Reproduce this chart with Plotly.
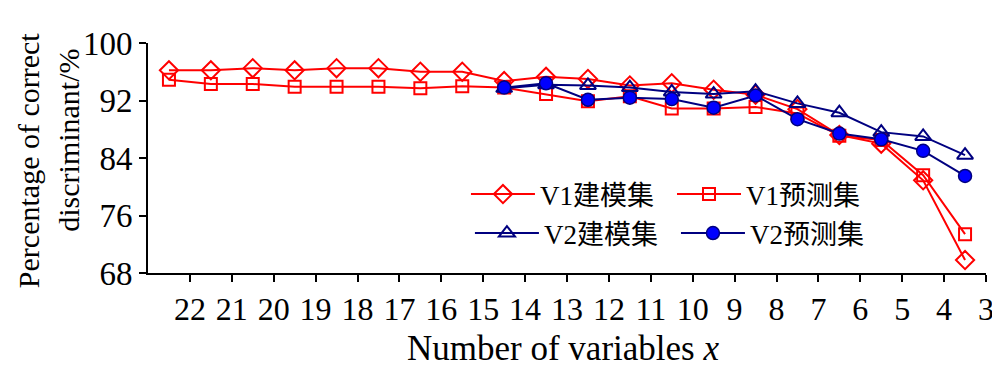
import plotly.graph_objects as go

# Positions of the points along the "Number of variables" axis
x_v1 = [22.5, 21.5, 20.5, 19.5, 18.5, 17.5, 16.5, 15.5, 14.5, 13.5,
        12.5, 11.5, 10.5, 9.5, 8.5, 7.5, 6.5, 5.5, 4.5, 3.5]
x_v2 = [14.5, 13.5, 12.5, 11.5, 10.5, 9.5, 8.5, 7.5, 6.5, 5.5, 4.5, 3.5]

v1_train = [96.2, 96.2, 96.5, 96.2, 96.5, 96.5, 96.0, 96.0, 94.7, 95.3,
            95.0, 94.1, 94.4, 93.5, 92.8, 90.8, 87.2, 86.0, 80.9, 69.8]
v1_pred = [94.9, 94.3, 94.3, 93.9, 93.9, 93.9, 93.7, 94.0, 93.8, 92.9,
           91.9, 92.6, 90.9, 90.9, 91.1, 90.2, 87.1, 86.5, 81.6, 73.4]
v2_train = [93.7, 94.2, 94.1, 93.8, 93.2, 92.9, 93.3, 91.6, 90.3, 87.6, 87.0, 84.4]
v2_pred = [93.8, 94.4, 92.1, 92.4, 92.2, 91.0, 92.7, 89.4, 87.4, 86.6, 85.0, 81.5]

x_ticks = list(range(22, 2, -1))
y_ticks = [68, 76, 84, 92, 100]

names = ["V1建模集", "V1预测集", "V2建模集", "V2预测集"]

RED = "#FF0000"
NAVY = "#000080"
FONT = "Liberation Serif, Times New Roman, Noto Sans CJK SC, serif"

# page body has an 8px margin; the figure is sized to fill the rest of the window
OFF = 8
W, H = 1000 - OFF, 374 - OFF
# plot area in window pixels
PX0, PX1, PY0, PY1 = 148, 994, 43, 273
L, R, T, B = PX0 - OFF, W - (PX1 - OFF), PY0 - OFF, H - (PY1 - OFF)
pw, ph = PX1 - PX0, PY1 - PY0


def px(xp):
    return (xp - PX0) / pw


def py(yp):
    return (PY1 - yp) / ph


fig = go.Figure()
fig.add_trace(go.Scatter(x=x_v1, y=v1_train, name=names[0], mode="lines+markers",
                         legend="legend",
                         line=dict(color=RED, width=2),
                         marker=dict(symbol="diamond-open", size=14, color=RED,
                                     line=dict(width=2, color=RED))))
fig.add_trace(go.Scatter(x=x_v1, y=v1_pred, name=names[1], mode="lines+markers",
                         legend="legend2",
                         line=dict(color=RED, width=2),
                         marker=dict(symbol="square-open", size=12, color=RED,
                                     line=dict(width=2, color=RED))))
fig.add_trace(go.Scatter(x=x_v2, y=v2_train, name=names[2], mode="lines+markers",
                         legend="legend3",
                         line=dict(color=NAVY, width=2),
                         marker=dict(symbol="triangle-up-open", size=14, color=NAVY,
                                     line=dict(width=2, color=NAVY))))
fig.add_trace(go.Scatter(x=x_v2, y=v2_pred, name=names[3], mode="lines+markers",
                         legend="legend4",
                         line=dict(color=NAVY, width=2),
                         marker=dict(symbol="circle", size=13, color="#0000FF",
                                     line=dict(width=1.5, color=NAVY))))

leg_common = dict(orientation="v", xanchor="left", yanchor="top", itemwidth=64,
                  font=dict(family=FONT, size=27, color="black"),
                  bgcolor="rgba(0,0,0,0)", tracegroupgap=0)

fig.update_layout(
    width=W, height=H,
    margin=dict(l=L, r=R, t=T, b=B),
    paper_bgcolor="white", plot_bgcolor="white",
    font=dict(family=FONT, color="black", size=30),
    showlegend=True,
    legend=dict(x=px(469), y=py(170), **leg_common),
    legend2=dict(x=px(677), y=py(170), **leg_common),
    legend3=dict(x=px(473), y=py(209), **leg_common),
    legend4=dict(x=px(681), y=py(209), **leg_common),
    xaxis=dict(range=[23, 3], tickmode="array", tickvals=x_ticks,
               ticktext=[str(v) for v in x_ticks], ticklabeloverflow="allow",
               showgrid=False, zeroline=False, showline=True, linecolor="black",
               linewidth=2, ticks="outside", ticklen=7, tickwidth=2, tickcolor="black",
               tickfont=dict(family=FONT, size=32, color="black")),
    yaxis=dict(range=[68, 100], tickmode="array", tickvals=y_ticks,
               showgrid=False, zeroline=False, showline=True, linecolor="black",
               linewidth=2, ticks="outside", ticklen=7, tickwidth=2, tickcolor="black",
               tickfont=dict(family=FONT, size=33, color="black")),
    annotations=[
        dict(text="Number of variables <i>x</i>", xref="paper", yref="paper",
             x=px(567), y=py(348), xanchor="center", yanchor="middle",
             showarrow=False, font=dict(family=FONT, size=35, color="black")),
        dict(text="Percentage of correct", xref="paper", yref="paper",
             x=px(27), y=py(160), xanchor="center", yanchor="middle", textangle=-90,
             showarrow=False, font=dict(family=FONT, size=30, color="black")),
        dict(text="discriminant/%", xref="paper", yref="paper",
             x=px(67), y=py(140), xanchor="center", yanchor="middle", textangle=-90,
             showarrow=False, font=dict(family=FONT, size=30, color="black")),
    ],
)

fig.write_html("out.html")
